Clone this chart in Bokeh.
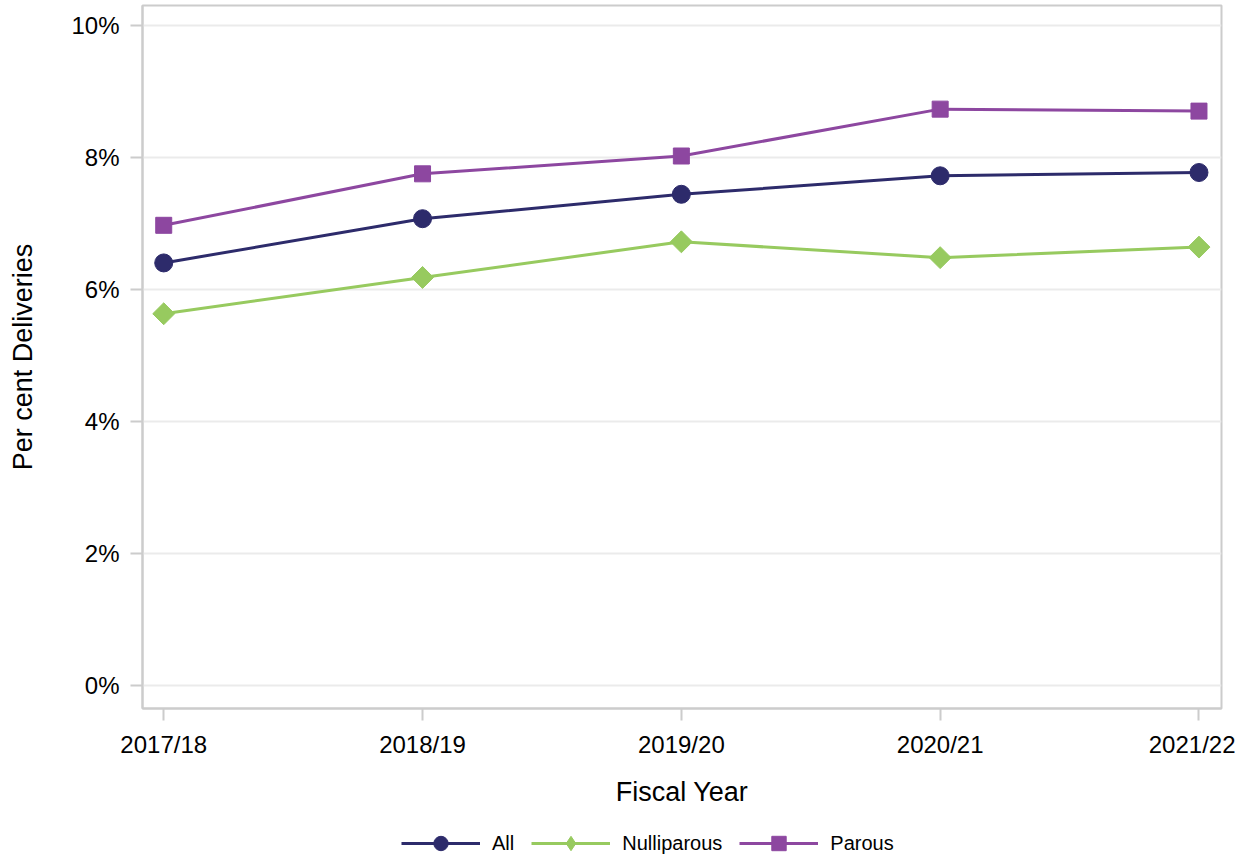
from bokeh.plotting import figure
from bokeh.models import (ColumnDataSource, FixedTicker, PrintfTickFormatter,
                          Range1d, Legend, LegendItem)
from bokeh.layouts import column
from bokeh.embed import file_html
from bokeh.resources import INLINE
import math

years = ["2017/18", "2018/19", "2019/20", "2020/21", "2021/22"]
all_vals = [6.40, 7.07, 7.44, 7.72, 7.77]
nulli_vals = [5.63, 6.18, 6.72, 6.48, 6.64]
parous_vals = [6.97, 7.75, 8.02, 8.73, 8.70]
y_ticks = [0, 2, 4, 6, 8, 10]
series_names = ["All", "Nulliparous", "Parous"]

x_idx = list(range(len(years)))
src = ColumnDataSource(dict(x=x_idx, all=all_vals, nulli=nulli_vals, parous=parous_vals))

FONT = "Liberation Sans"
GRAY = "#cccccc"
c_all = "#2d2b6b"
c_nul = "#97ca5f"
c_par = "#8d47a0"

p = figure(width=1235, height=811, output_backend="svg", toolbar_location=None,
           x_range=Range1d(-0.082, 4.087), y_range=Range1d(-0.35, 10.30),
           min_border_left=142, min_border_right=14, min_border_top=5,
           min_border_bottom=103)

p.outline_line_color = GRAY
p.outline_line_width = 2
p.background_fill_color = "white"
p.border_fill_color = "white"

p.xgrid.visible = False
p.ygrid.ticker = FixedTicker(ticks=y_ticks)
p.ygrid.grid_line_color = "#ebebeb"
p.ygrid.grid_line_width = 2

for ax in (p.xaxis[0], p.yaxis[0]):
    ax.axis_line_color = GRAY
    ax.axis_line_width = 2
    ax.major_tick_line_color = GRAY
    ax.major_tick_line_width = 2
    ax.major_tick_in = 0
    ax.major_tick_out = 12
    ax.minor_tick_line_color = None
    ax.major_label_text_font = FONT
    ax.major_label_text_font_size = "24px"
    ax.major_label_text_color = "black"
    ax.axis_label_text_font = FONT
    ax.axis_label_text_font_size = "27px"
    ax.axis_label_text_font_style = "normal"
    ax.axis_label_text_color = "black"

p.xaxis.ticker = FixedTicker(ticks=x_idx)
p.xaxis.major_label_overrides = {i: y for i, y in zip(x_idx, years)}
p.xaxis.axis_label = "Fiscal Year"
p.xaxis.major_label_standoff = 10
p.xaxis.axis_label_standoff = 16

p.yaxis.ticker = FixedTicker(ticks=y_ticks)
p.yaxis.formatter = PrintfTickFormatter(format="%d%%")
p.yaxis.axis_label = "Per cent Deliveries"
p.yaxis.major_label_standoff = 11
p.yaxis.axis_label_standoff = 30

p.line("x", "all", source=src, line_color=c_all, line_width=3)
p.scatter("x", "all", source=src, marker="circle", size=18,
          fill_color=c_all, line_color=c_all)
p.line("x", "nulli", source=src, line_color=c_nul, line_width=3)
p.scatter("x", "nulli", source=src, marker="square", size=15.5, angle=math.pi / 4,
          fill_color=c_nul, line_color=c_nul)
p.line("x", "parous", source=src, line_color=c_par, line_width=3)
p.scatter("x", "parous", source=src, marker="square", size=16,
          fill_color=c_par, line_color=c_par)

# Legend strip below the chart (Bokeh legends in a side panel mis-size the layout)
lg = figure(width=1235, height=50, output_backend="svg", toolbar_location=None,
            x_axis_type=None, y_axis_type=None,
            x_range=Range1d(0, 1), y_range=Range1d(0, 1),
            min_border=0)
lg.outline_line_color = None
lg.grid.visible = False
lg.background_fill_color = "white"
lg.border_fill_color = "white"

styles = [("circle", c_all), ("diamond", c_nul), ("square", c_par)]
items = []
for name, (mk, col) in zip(series_names, styles):
    r1 = lg.line([5, 6], [5, 6], line_color=col, line_width=3)
    r2 = lg.scatter([5], [5], marker=mk, fill_color=col, line_color=col)
    items.append(LegendItem(label=name, renderers=[r1, r2]))

legend = Legend(items=items, orientation="horizontal", location=(259, 0))
legend.label_text_font = FONT
legend.label_text_font_size = "20px"
legend.label_text_color = "black"
legend.glyph_width = 79
legend.glyph_height = 36
legend.label_standoff = 12
legend.spacing = 17
legend.padding = 0
legend.margin = 0
legend.border_line_color = None
legend.background_fill_alpha = 0
lg.add_layout(legend, "center")

layout = column(p, lg, spacing=0)
open("out.html", "w").write(file_html(layout, INLINE))
